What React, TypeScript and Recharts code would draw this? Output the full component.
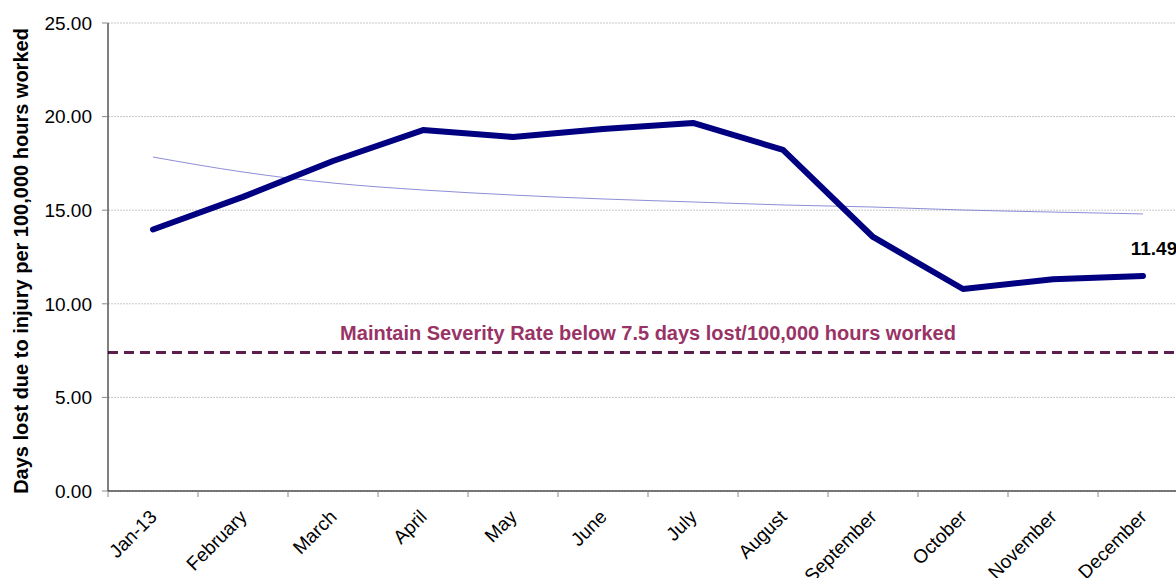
import { LineChart, Line, XAxis, YAxis, CartesianGrid, ReferenceLine, LabelList, Label } from "recharts";

const months = ["Jan-13", "February", "March", "April", "May", "June", "July", "August", "September", "October", "November", "December"];
const severity = [13.97, 15.71, 17.63, 19.28, 18.91, 19.34, 19.66, 18.22, 13.57, 10.79, 11.31, 11.49];
const trend = [17.84, 17.04, 16.45, 16.08, 15.81, 15.6, 15.44, 15.28, 15.17, 15.01, 14.9, 14.8];
const yTicks = [0, 5, 10, 15, 20, 25];
const target = 7.4;

const data = months.map((m, i) => ({ month: m, severity: severity[i], trend: trend[i] }));

const font = "'Liberation Sans', Arial, sans-serif";

const MonthTick = (props: any) => {
  const { x, y, payload } = props;
  const tx = x + 5;
  const ty = y + 27;
  return (
    <g>
      <line x1={x - 45} y1={y} x2={x - 45} y2={y + 6} stroke="#888" />
      <text
        x={tx}
        y={ty}
        transform={`rotate(-45, ${tx}, ${ty})`}
        textAnchor="end"
        fontSize={19}
        fontFamily={font}
        fill="#000"
      >
        {payload.value}
      </text>
    </g>
  );
};

const LastValue = (props: any) => {
  const { x, y, value, index } = props;
  if (index !== severity.length - 1) return null;
  return (
    <text x={x + 11} y={y - 21} textAnchor="middle" fontSize={19} fontWeight="bold" fontFamily={font} fill="#000">
      {value.toFixed(2)}
    </text>
  );
};

const AxisTitle = (props: any) => {
  const { viewBox } = props;
  const cy = viewBox.y + viewBox.height / 2 + 4;
  return (
    <text
      x={21}
      y={cy}
      transform={`rotate(-90, 21, ${cy})`}
      textAnchor="middle"
      dominantBaseline="central"
      fontSize={20}
      fontWeight="bold"
      fontFamily={font}
      fill="#000"
    >
      Days lost due to injury per 100,000 hours worked
    </text>
  );
};

export default function App() {
  return (
    <div style={{ position: "absolute", left: 0, top: 0, width: 1176, height: 578, overflow: "hidden", background: "#fff" }}>
      <LineChart width={1200} height={578} data={data} margin={{ top: 23, right: 12, left: 0, bottom: 0 }}>
        <CartesianGrid vertical={false} stroke="#c8c8c8" strokeDasharray="2 1" />
        <XAxis
          dataKey="month"
          height={87}
          padding={{ left: 45, right: 45 }}
          axisLine={{ stroke: "#000" }}
          tickLine={false}
          tickSize={0}
          tickMargin={0}
          interval={0}
          tick={<MonthTick />}
        />
        <YAxis
          width={108}
          domain={[0, 25]}
          ticks={yTicks}
          axisLine={{ stroke: "#000" }}
          tickLine={{ stroke: "#888" }}
          tickSize={6}
          tickMargin={10}
          tickFormatter={(v: number) => v.toFixed(2)}
          tick={{ fontSize: 19, fontFamily: font, fill: "#000" }}
        >
          <Label content={<AxisTitle />} />
        </YAxis>
        <ReferenceLine
          y={target}
          stroke="#5e1f4f"
          strokeWidth={3}
          strokeDasharray="10 6"
          label={{
            value: "Maintain Severity Rate below 7.5 days lost/100,000 hours worked",
            position: "top",
            offset: 12,
            fill: "#993366",
            fontSize: 20,
            fontWeight: "bold",
            fontFamily: font,
          }}
        />
        <Line
          type="monotone"
          dataKey="trend"
          stroke="#7070d0"
          strokeWidth={1}
          strokeOpacity={0.8}
          dot={false}
          isAnimationActive={false}
        />
        <Line
          type="linear"
          dataKey="severity"
          stroke="#000080"
          strokeWidth={6}
          strokeLinecap="round"
          strokeLinejoin="round"
          dot={false}
          isAnimationActive={false}
        >
          <LabelList dataKey="severity" content={<LastValue />} />
        </Line>
      </LineChart>
    </div>
  );
}
